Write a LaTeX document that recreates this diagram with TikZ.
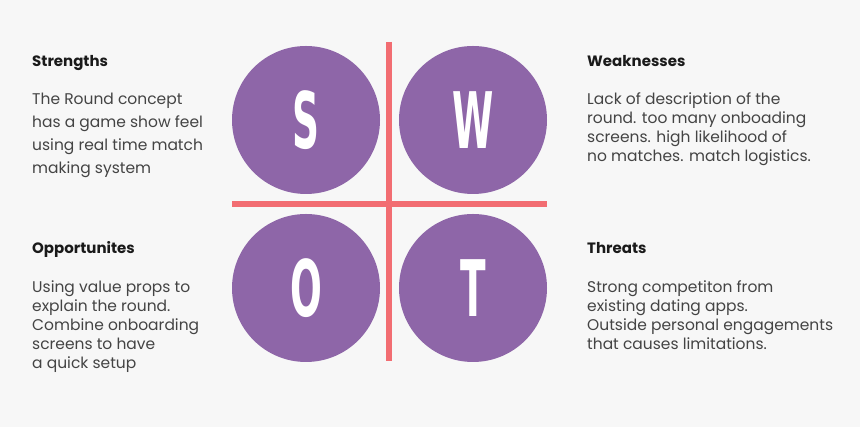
\documentclass[tikz,border=0pt]{standalone}
\usepackage{fontspec}
\usepackage{tikz}
\setmainfont{Poppins}
\newfontfamily\letterfont{DejaVu Sans}

\begin{document}
\begin{tikzpicture}[x=1pt,y=1pt]
\definecolor{fillColor}{RGB}{247,247,247}
\definecolor{circColor}{RGB}{142,102,168}
\definecolor{lineColor}{RGB}{242,109,114}
\definecolor{headColor}{RGB}{26,26,26}
\definecolor{bodyColor}{RGB}{68,68,68}
\tikzset{
  quadrant/.style={circle,fill=circColor,inner sep=0pt,minimum size=148},
  letter/.style={text=white,inner sep=0pt,font=\letterfont\bfseries\fontsize{78}{78}\selectfont},
  heading/.style={text=headColor,anchor=base west,inner sep=0pt,font=\bfseries\fontsize{15}{19}\selectfont},
  body/.style={text=bodyColor,anchor=base west,inner sep=0pt,align=left,font=\fontsize{15.5}{19}\selectfont},
  cross/.style={draw=lineColor,line width=6}
}
\path[use as bounding box,fill=fillColor] (0,0) rectangle (860,427);

\node[quadrant] (s) at (306,307) {};
\node[quadrant] (w) at (473,307) {};
\node[quadrant] (o) at (306,139) {};
\node[quadrant] (t) at (473,139) {};

\coordinate (hl) at (232,223);
\coordinate (hr) at (547,223);
\coordinate (vt) at (389,385);
\coordinate (vb) at (389,66);
\path[cross] (hl) -- (hr);
\path[cross] (vt) -- (vb);

\node[letter] (sl) at (s) {\scalebox{0.48}[1]{S}};
\node[letter] (wl) at (w) {\scalebox{0.48}[1]{W}};
\node[letter] (ol) at (o) {\scalebox{0.48}[1]{O}};
\node[letter] (tl) at (t) {\scalebox{0.48}[1]{T}};

% base anchor = baseline of the last line
\node[heading] (sh) at (32,360.3) {Strengths};
\node[body,font=\fontsize{15.5}{23}\selectfont] (sb) at (32,253) {The Round concept\\has a game show feel\\using real time match\\making system};

\node[heading] (wh) at (587,360.3) {Weaknesses};
\node[body] (wb) at (587,265) {Lack of description of the\\round. too many onboading\\screens. high likelihood of\\no matches. match logistics.};

\node[heading] (oh) at (32,173) {Opportunites};
\node[body] (ob) at (32,58) {Using value props to\\explain the round.\\Combine onboarding\\screens to have\\a quick setup};

\node[heading] (th) at (587,173) {Threats};
\node[body] (tb) at (587,77.3) {Strong competiton from\\existing dating apps.\\Outside personal engagements\\that causes limitations.};
\end{tikzpicture}
\end{document}
